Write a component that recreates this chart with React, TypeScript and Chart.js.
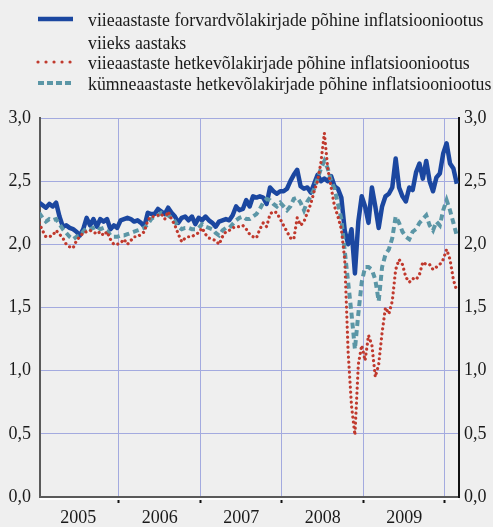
import React, { useEffect, useRef } from 'react';
import { Chart, registerables } from 'chart.js';

Chart.register(...registerables);

// Half-monthly observations, starting early January 2005
const START_YEAR = 2005.02;
const STEP = 1 / 24;

const yearLabels = ['2005', '2006', '2007', '2008', '2009'];
const yearBoundaries = [2006, 2007, 2008, 2009, 2010];
const yTickValues = [0, 0.5, 1, 1.5, 2, 2.5, 3];

const seriesNames = [
  'viieaastaste forvardvõlakirjade põhine inflatsiooniootus|viieks aastaks',
  'viieaastaste hetkevõlakirjade põhine inflatsiooniootus',
  'kümneaastaste hetkevõlakirjade põhine inflatsiooniootus',
];

// 5y5y forward break-even inflation
const forward5y = [
  // 2005
  2.33, 2.31, 2.29, 2.32, 2.30, 2.33, 2.22, 2.14, 2.15, 2.13, 2.12, 2.10, 2.07, 2.12, 2.21, 2.15, 2.20, 2.14, 2.20, 2.18, 2.20, 2.12, 2.15, 2.13,
  // 2006
  2.19, 2.20, 2.21, 2.20, 2.18, 2.19, 2.17, 2.14, 2.25, 2.24, 2.24, 2.28, 2.26, 2.24, 2.29, 2.25, 2.22, 2.17, 2.21, 2.22, 2.19, 2.22, 2.16, 2.21,
  // 2007
  2.19, 2.22, 2.19, 2.17, 2.14, 2.18, 2.19, 2.20, 2.19, 2.23, 2.30, 2.27, 2.28, 2.35, 2.30, 2.38, 2.37, 2.38, 2.37, 2.32, 2.45, 2.42, 2.40, 2.42,
  // 2008
  2.42, 2.44, 2.50, 2.55, 2.59, 2.46, 2.44, 2.45, 2.41, 2.48, 2.55, 2.50, 2.52, 2.50, 2.54, 2.46, 2.44, 2.37, 2.11, 2.00, 2.12, 1.77, 2.18, 2.38,
  // 2009
  2.30, 2.17, 2.45, 2.30, 2.13, 2.30, 2.38, 2.40, 2.45, 2.68, 2.45, 2.38, 2.34, 2.45, 2.43, 2.57, 2.64, 2.52, 2.66, 2.50, 2.42, 2.53, 2.56, 2.72,
  // 2010
  2.80, 2.64, 2.60, 2.48,
];

// 5-year spot break-even inflation
const spot5y = [
  // 2005
  2.17, 2.11, 2.06, 2.06, 2.07, 2.11, 2.08, 2.05, 2.00, 1.98, 1.97, 2.03, 2.06, 2.09, 2.10, 2.11, 2.10, 2.08, 2.10, 2.07, 2.10, 2.04, 2.00, 2.00,
  // 2006
  2.01, 2.04, 2.00, 2.03, 2.06, 2.06, 2.08, 2.10, 2.19, 2.22, 2.22, 2.23, 2.24, 2.20, 2.26, 2.20, 2.15, 2.08, 2.02, 2.05, 2.06, 2.06, 2.08, 2.09,
  // 2007
  2.13, 2.08, 2.05, 2.04, 2.03, 2.00, 2.06, 2.10, 2.11, 2.13, 2.14, 2.14, 2.15, 2.12, 2.08, 2.06, 2.05, 2.12, 2.17, 2.14, 2.24, 2.26, 2.25, 2.20,
  // 2008
  2.15, 2.10, 2.05, 2.04, 2.21, 2.15, 2.18, 2.25, 2.32, 2.42, 2.50, 2.65, 2.88, 2.60, 2.45, 2.30, 2.22, 2.12, 1.88, 1.15, 0.72, 0.49, 1.05, 1.20,
  // 2009
  1.08, 1.28, 1.20, 0.95, 1.05, 1.30, 1.50, 1.45, 1.55, 1.80, 1.88, 1.84, 1.74, 1.70, 1.73, 1.72, 1.76, 1.86, 1.84, 1.84, 1.80, 1.82, 1.84, 1.88,
  // 2010
  1.96, 1.88, 1.72, 1.63,
];

// 10-year spot break-even inflation
const spot10y = [
  // 2005
  2.25, 2.21, 2.18, 2.20, 2.19, 2.20, 2.16, 2.12, 2.09, 2.06, 2.04, 2.06, 2.07, 2.10, 2.13, 2.12, 2.13, 2.14, 2.12, 2.13, 2.11, 2.07, 2.06, 2.06,
  // 2006
  2.07, 2.07, 2.08, 2.09, 2.10, 2.11, 2.12, 2.13, 2.16, 2.20, 2.22, 2.23, 2.25, 2.24, 2.23, 2.21, 2.18, 2.14, 2.12, 2.13, 2.13, 2.12, 2.12, 2.13,
  // 2007
  2.16, 2.14, 2.13, 2.12, 2.09, 2.07, 2.11, 2.13, 2.13, 2.16, 2.19, 2.21, 2.22, 2.20, 2.20, 2.22, 2.24, 2.28, 2.33, 2.36, 2.35, 2.32, 2.30, 2.33,
  // 2008
  2.30, 2.27, 2.30, 2.36, 2.37, 2.33, 2.27, 2.34, 2.38, 2.44, 2.52, 2.60, 2.66, 2.60, 2.50, 2.44, 2.32, 2.20, 1.95, 1.70, 1.45, 1.17, 1.45, 1.70,
  // 2009
  1.82, 1.82, 1.80, 1.72, 1.55, 1.82, 1.92, 1.96, 2.05, 2.22, 2.17, 2.10, 2.06, 2.04, 2.10, 2.12, 2.17, 2.20, 2.23, 2.15, 2.11, 2.18, 2.15, 2.27,
  // 2010
  2.35, 2.27, 2.17, 2.07,
];

const X_MIN = 2005.031;
const X_MAX = 2010.172;

const FONT = '"Liberation Serif", "Times New Roman", Times, serif';
const FONT_SIZE = 18;
const LEGEND_FONT_SIZE = 17.8;
const TEXT = '#1a1a1a';
const GRID = '#a3aadf';
const BLUE = '#1b47a0';
const RED = '#c0392d';
const TEAL = '#5b96a6';

const toPoints = (vals: number[]) => vals.map((v, i) => ({ x: START_YEAR + i * STEP, y: v }));
const fmt = (v: number) => v.toFixed(1).replace('.', ',');

const legendPlugin = {
  id: 'customLegend',
  afterDraw(chart: any) {
    const ctx = chart.ctx as CanvasRenderingContext2D;
    const ds = chart.data.datasets;
    ctx.save();
    ctx.font = `${LEGEND_FONT_SIZE}px ${FONT}`;
    ctx.fillStyle = TEXT;
    ctx.textBaseline = 'middle';
    ctx.textAlign = 'left';
    const rows = [19, 62, 83];
    const x0 = 38;
    const x1 = 73;
    const tx = 88;
    ds.forEach((d: any, i: number) => {
      const y = rows[i];
      ctx.save();
      ctx.strokeStyle = d.borderColor;
      ctx.lineWidth = d.borderWidth;
      ctx.lineCap = d.borderCapStyle || 'butt';
      ctx.setLineDash(d.legendDash || []);
      ctx.beginPath();
      ctx.moveTo(x0, y);
      ctx.lineTo(x1, y);
      ctx.stroke();
      ctx.restore();
      const parts = String(d.label).split('|');
      parts.forEach((p: string, j: number) => ctx.fillText(p, tx, y + 2 + j * 23));
    });
    // white strip under the x axis
    const a = chart.chartArea;
    ctx.strokeStyle = '#ffffff';
    ctx.lineWidth = 2;
    ctx.beginPath();
    ctx.moveTo(a.left, a.bottom + 2);
    ctx.lineTo(a.right, a.bottom + 2);
    ctx.stroke();
    ctx.restore();
  },
};

export default function App() {
  const ref = useRef<HTMLCanvasElement | null>(null);

  useEffect(() => {
    if (!ref.current) return;
    Chart.defaults.font.family = FONT;
    Chart.defaults.font.size = FONT_SIZE;
    Chart.defaults.color = TEXT;

    const chart = new Chart(ref.current, {
      type: 'line',
      data: {
        datasets: [
          {
            label: seriesNames[0],
            data: toPoints(forward5y),
            borderColor: BLUE,
            borderWidth: 4.5,
            pointRadius: 0,
            tension: 0,
            borderJoinStyle: 'round',
            order: 2,
            legendDash: [],
          } as any,
          {
            label: seriesNames[1],
            data: toPoints(spot5y),
            borderColor: RED,
            borderWidth: 3.2,
            borderCapStyle: 'round',
            borderDash: [0.01, 5],
            pointRadius: 0,
            tension: 0,
            order: 0,
            legendDash: [0.01, 8],
          } as any,
          {
            label: seriesNames[2],
            data: toPoints(spot10y),
            borderColor: TEAL,
            borderWidth: 4,
            borderDash: [6, 4],
            pointRadius: 0,
            tension: 0,
            order: 1,
            legendDash: [6, 3],
          } as any,
        ],
      },
      options: {
        animation: false,
        responsive: false,
        devicePixelRatio: 1,
        parsing: false,
        layout: { padding: { top: 118, left: 0, right: 0, bottom: 0 } },
        plugins: { legend: { display: false }, tooltip: { enabled: false } },
        scales: {
          x: {
            type: 'linear',
            position: 'bottom',
            min: X_MIN,
            max: X_MAX,
            weight: 1,
            afterBuildTicks: (s: any) => {
              s.ticks = yearBoundaries.map((v) => ({ value: v }));
            },
            ticks: { display: false },
            grid: {
              color: GRID,
              lineWidth: 1,
              drawTicks: true,
              tickLength: 6,
              tickColor: '#111111',
              tickWidth: 2,
            },
            border: { color: '#5a5a5a', width: 2 },
            afterFit: (s: any) => {
              s.height = 8;
            },
          },
          x2: {
            type: 'linear',
            position: 'bottom',
            min: X_MIN,
            max: X_MAX,
            weight: 2,
            afterBuildTicks: (s: any) => {
              s.ticks = yearLabels.map((l) => ({ value: Number(l) + 0.5 }));
            },
            ticks: {
              autoSkip: false,
              maxRotation: 0,
              padding: 2,
              callback: (v: any) => yearLabels.find((l) => Number(l) === Math.floor(Number(v))) || '',
            },
            grid: { display: false, drawTicks: false },
            border: { display: false },
            afterFit: (s: any) => {
              s.height = 22;
            },
          },
          y: {
            position: 'left',
            min: 0,
            max: 3,
            afterBuildTicks: (s: any) => {
              s.ticks = yTickValues.map((v) => ({ value: v }));
            },
            ticks: { padding: 9, callback: (v: any) => fmt(Number(v)) },
            grid: { color: GRID, lineWidth: 1, drawTicks: false },
            border: { color: '#5a5a5a', width: 2 },
            afterFit: (s: any) => {
              s.width = 40;
            },
          },
          y2: {
            position: 'right',
            min: 0,
            max: 3,
            afterBuildTicks: (s: any) => {
              s.ticks = yTickValues.map((v) => ({ value: v }));
            },
            ticks: { padding: 5, callback: (v: any) => fmt(Number(v)) },
            grid: { display: false, drawTicks: false },
            border: { color: '#111111', width: 2 },
            afterFit: (s: any) => {
              s.width = 34;
            },
          },
        },
      } as any,
      plugins: [legendPlugin],
    });
    return () => chart.destroy();
  }, []);

  return (
    <div
      style={{
        position: 'fixed',
        left: 0,
        top: 0,
        width: 493,
        height: 527,
        background: '#efefef',
      }}
    >
      <canvas ref={ref} width={493} height={527} style={{ width: 493, height: 527, display: 'block' }} />
    </div>
  );
}
